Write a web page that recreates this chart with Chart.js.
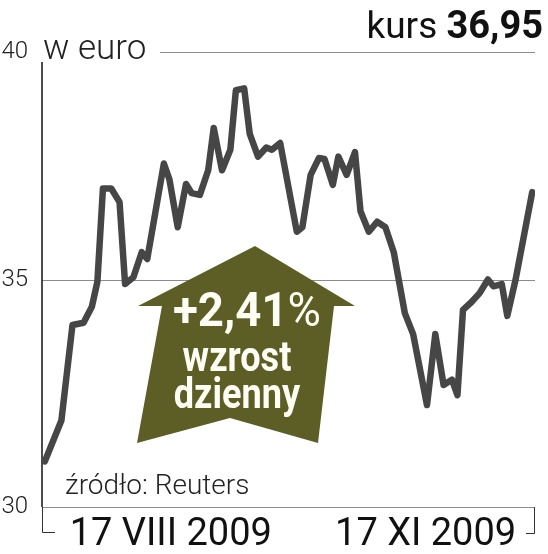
<!DOCTYPE html>
<html><head><meta charset="utf-8">
<script src="https://cdn.jsdelivr.net/npm/chart.js@4/dist/chart.umd.min.js"></script>
<style>
html,body{margin:0;padding:0;background:#fff;}
#wrap{position:relative;width:548px;height:554px;overflow:hidden;}
#c{position:absolute;left:0;top:0;}
.t{position:absolute;white-space:nowrap;line-height:1;font-family:Roboto,"Liberation Sans",sans-serif;}
</style></head><body>
<div id="wrap">
<canvas id="c" width="548" height="554"></canvas>
<div class="t" id="kurs" style="right:5px;top:6px;font-size:37px;color:#111;">kurs <b style="font-weight:700;font-size:38px;">36,95</b></div>
<div class="t" id="unit" style="left:43px;top:30px;font-size:35px;font-weight:300;color:#222;">w euro</div>
<div class="t" id="src" style="left:65px;top:471px;font-size:28px;font-weight:300;color:#222;">źródło: Reuters</div>
<div class="t" style="left:247px;top:286px;font-size:48px;font-weight:700;color:#fffef4;transform:translateX(-50%) scaleX(0.95);">+2,41<span style="font-weight:400">%</span></div>
<div class="t" style="left:237px;top:335px;font-size:43px;font-weight:700;color:#fffef4;transform:translateX(-50%) scaleX(0.84);">wzrost</div>
<div class="t" style="left:237px;top:372px;font-size:43px;font-weight:700;color:#fffef4;transform:translateX(-50%) scaleX(0.84);">dzienny</div>
</div>
<script>
// Data: day offsets (from ~2 VII 2009) and closing price in EUR
const days = [0,6,10,14,17,19,21,24,27,29,32,35,37,40,43,45,48,51,53,56,59,61,64,67,69,72,74,77,80,82,85,91,93,96,99,101,104,106,109,112,114,117,120,123,126,130,133,138,141,144,147,149,151,154,157,160,162,165,167,170,176];
const prices = [31.0,31.9,34.0,34.05,34.4,34.95,37.0,37.0,36.7,34.9,35.05,35.6,35.45,36.5,37.55,37.2,36.15,37.1,36.9,36.86,37.4,38.33,37.4,37.85,39.16,39.2,38.2,37.7,37.9,37.85,38.0,36.05,36.15,37.3,37.67,37.65,37.08,37.7,37.3,37.8,36.5,36.05,36.27,36.15,35.6,34.26,33.8,32.24,33.8,32.68,32.8,32.46,34.33,34.5,34.7,35.0,34.85,34.9,34.2,35.0,36.92];
const tickDays = [45.5,137.5];
const tickLabels = ['17 VIII 2009','17 XI 2009'];
const yTicks = [30,35,40];

const deco = {
  id:'deco',
  beforeDatasetsDraw(chart){
    const {ctx, chartArea:a, scales:{y}} = chart;
    ctx.save();
    ctx.strokeStyle = '#8c8c8c'; ctx.lineWidth = 1;
    yTicks.forEach(v=>{
      const py = Math.round(y.getPixelForValue(v))+0.5;
      const x0 = v===40 ? 160 : a.left;
      ctx.beginPath(); ctx.moveTo(x0,py); ctx.lineTo(a.right,py); ctx.stroke();
    });
    ctx.strokeStyle = '#111'; ctx.lineWidth = 1.5;
    ctx.beginPath(); ctx.moveTo(a.left, a.top+10); ctx.lineTo(a.left, a.bottom); ctx.stroke();
    ctx.strokeStyle = '#333'; ctx.lineWidth = 1;
    ctx.beginPath(); ctx.moveTo(a.left+0.5, a.bottom); ctx.lineTo(a.left+0.5, a.bottom+25.5); ctx.lineTo(a.left+13, a.bottom+25.5); ctx.stroke();
    ctx.beginPath(); ctx.moveTo(a.right-0.5, a.bottom); ctx.lineTo(a.right-0.5, a.bottom+26.5); ctx.lineTo(a.right-9, a.bottom+26.5); ctx.stroke();
    ctx.restore();
  },
  afterDatasetsDraw(chart){
    const {ctx} = chart;
    ctx.save();
    ctx.fillStyle = '#5c5e26';
    ctx.beginPath();
    const pts = [[255,246],[355,306],[334,306],[318,443],[230,418],[137,443],[162,306],[138,306]];
    pts.forEach((p,i)=> i? ctx.lineTo(p[0],p[1]) : ctx.moveTo(p[0],p[1]));
    ctx.closePath(); ctx.fill();
    ctx.restore();
  }
};

new Chart(document.getElementById('c'), {
  type:'line',
  data:{datasets:[{data: days.map((d,i)=>({x:d,y:prices[i]})), borderColor:'#464646', borderWidth:6.5, pointRadius:0, tension:0, borderJoinStyle:'round', borderCapStyle:'round', fill:false}]},
  options:{
    responsive:false, animation:false,
    layout:{padding:{top:52,right:13,left:0,bottom:0}},
    plugins:{legend:{display:false}, tooltip:{enabled:false}},
    scales:{
      x:{type:'linear', min:-1, max:177,
        grid:{display:false}, border:{display:false},
        afterBuildTicks(s){ s.ticks = tickDays.map(v=>({value:v})); },
        afterFit(s){ s.height = 47; },
        ticks:{autoSkip:false, maxRotation:0, padding:-2, color:'#111', font:{family:'Roboto', size:38, weight:'400'},
          callback:(v,i)=>tickLabels[i]}
      },
      y:{min:30, max:40,
        grid:{display:false}, border:{display:false},
        afterBuildTicks(s){ s.ticks = yTicks.map(v=>({value:v})); },
        afterFit(s){ s.width = 42; },
        ticks:{padding:6, color:'#222', font:{family:'Roboto', size:24, weight:'300'}}
      }
    }
  },
  plugins:[deco]
});
</script>
</body></html>
